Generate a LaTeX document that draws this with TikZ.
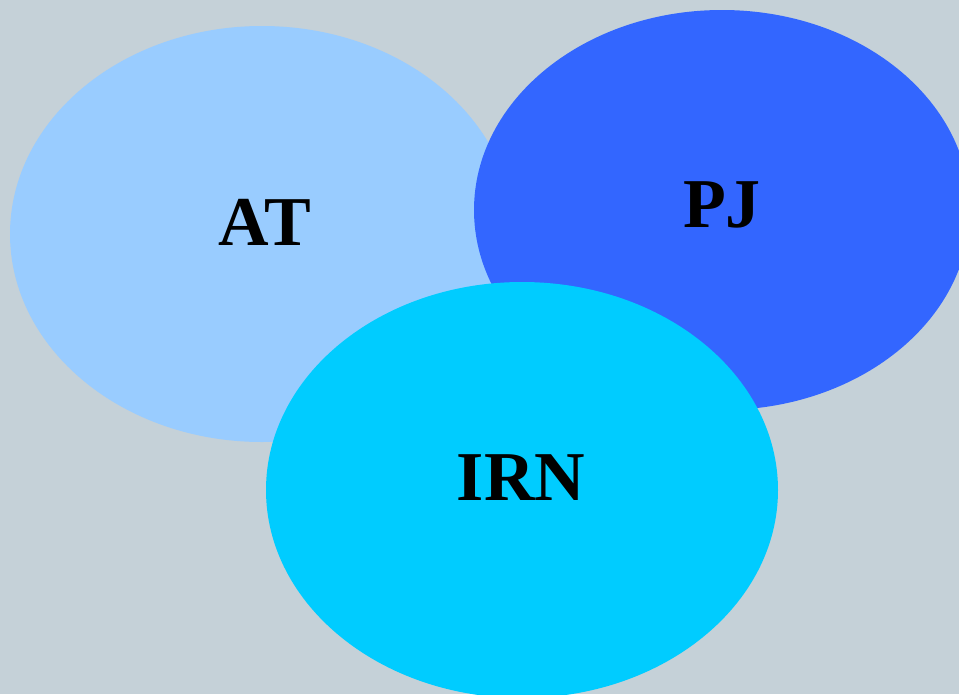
\documentclass[tikz,border=0pt]{standalone}
\usepackage{fontspec}
\setmainfont{Liberation Serif}
\usetikzlibrary{shapes.geometric}

\definecolor{bgGrey}{HTML}{C5D1D8}
\definecolor{atBlue}{HTML}{99CCFF}
\definecolor{pjBlue}{HTML}{3366FF}
\definecolor{irnBlue}{HTML}{00CCFF}

\begin{document}
\begin{tikzpicture}[
            x=1pt, y=-1pt,
            circ/.style={ellipse, draw=none, inner sep=0pt},
            lbl/.style={font=\fontsize{70}{76}\selectfont\bfseries, text=black, inner sep=0pt}
        ]
            % Background
            \fill[bgGrey] (0,0) rectangle (959,694);
            \useasboundingbox (0,0) rectangle (959,694);
            
            % Sets
            \begin{scope}
                \clip (0,0) rectangle (959,694);
                \node[circ, fill=atBlue, minimum width=504pt, minimum height=416pt] (at) at (262, 234) {};
                \node[circ, fill=pjBlue, minimum width=496pt, minimum height=400pt] (pj) at (722, 210) {};
                \node[circ, fill=irnBlue, minimum width=512pt, minimum height=416pt] (irn) at (522, 490) {};
            \end{scope}
            
            % Labels
            \node[lbl] (atlbl) at (265, 222) {AT};
            \node[lbl] (pjlbl) at (722, 205) {PJ};
            \node[lbl] (irnlbl) at (521, 478) {IRN};
        \end{tikzpicture}
\end{document}
